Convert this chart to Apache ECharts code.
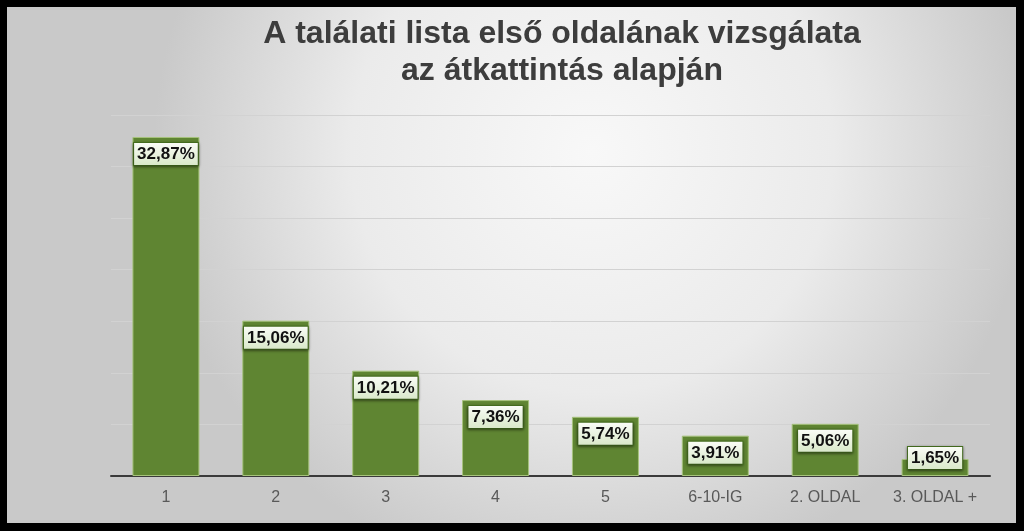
<!DOCTYPE html>
<html>
<head>
<meta charset="utf-8">
<script src="https://cdn.jsdelivr.net/npm/echarts@6/dist/echarts.min.js"></script>
<style>
html,body{margin:0;padding:0;background:#000;width:1024px;height:531px;overflow:hidden;}
#chart{position:absolute;left:7px;top:7px;width:1009px;height:516px;}
</style>
</head>
<body>
<div id="chart"></div>
<script>
var categories = ['1', '2', '3', '4', '5', '6-10-IG', '2. OLDAL', '3. OLDAL +'];
var values = [32.87, 15.06, 10.21, 7.36, 5.74, 3.91, 5.06, 1.65];
var titleLines = ['A találati lista első oldalának vizsgálata', 'az átkattintás alapján'];

var chart = echarts.init(document.getElementById('chart'), null, {renderer: 'canvas'});

var seriesData = values.map(function (v) {
  var item = {value: v};
  if (v < 3) {
    item.label = {position: 'insideBottom', distance: 7};
  }
  return item;
});

var option = {
  animation: false,
  backgroundColor: {
    type: 'radial', x: 0.58, y: 0.28, r: 0.85,
    colorStops: [
      {offset: 0, color: '#f8f8f8'},
      {offset: 0.55, color: '#ebebeb'},
      {offset: 1, color: '#c9c9c9'}
    ]
  },
  title: {
    text: titleLines.join('\n'),
    left: 550,
    top: 4,
    textAlign: 'center',
    textStyle: {
      fontFamily: 'Liberation Sans, Arial, sans-serif',
      fontWeight: 'bold',
      fontSize: 32,
      lineHeight: 37,
      color: '#3d3d3d'
    }
  },
  grid: {left: 104, right: 26, top: 108, bottom: 47, containLabel: false},
  xAxis: {
    type: 'category',
    data: categories,
    axisLine: {lineStyle: {color: '#3a3a3a', width: 2}},
    axisTick: {show: false},
    axisLabel: {
      color: '#595959',
      fontFamily: 'Liberation Sans, Arial, sans-serif',
      fontSize: 16,
      margin: 14
    }
  },
  yAxis: {
    type: 'value',
    min: 0, max: 35, interval: 5,
    axisLine: {show: false},
    axisTick: {show: false},
    axisLabel: {show: false},
    splitLine: {lineStyle: {color: '#d2d2d2', width: 1}}
  },
  series: [{
    type: 'bar',
    data: seriesData,
    barWidth: '61%',
    itemStyle: {
      color: '#5f8532',
      borderColor: '#a6c27c',
      borderWidth: 1
    },
    label: {
      show: true,
      position: 'insideTop',
      distance: 6,
      formatter: function (p) { return p.value.toFixed(2).replace('.', ',') + '%'; },
      fontFamily: 'Liberation Sans, Arial, sans-serif',
      fontWeight: 'bold',
      fontSize: 17,
      lineHeight: 19,
      color: '#111',
      padding: [2, 3, 1, 3],
      borderColor: '#46701f',
      borderWidth: 1,
      backgroundColor: {
        type: 'linear', x: 0, y: 0, x2: 0, y2: 1,
        colorStops: [
          {offset: 0, color: '#fbfdf8'},
          {offset: 1, color: '#d8e8c8'}
        ]
      },
      shadowColor: 'rgba(0,0,0,0.45)',
      shadowBlur: 3,
      shadowOffsetY: 1
    }
  }]
};
chart.setOption(option);
</script>
</body>
</html>
